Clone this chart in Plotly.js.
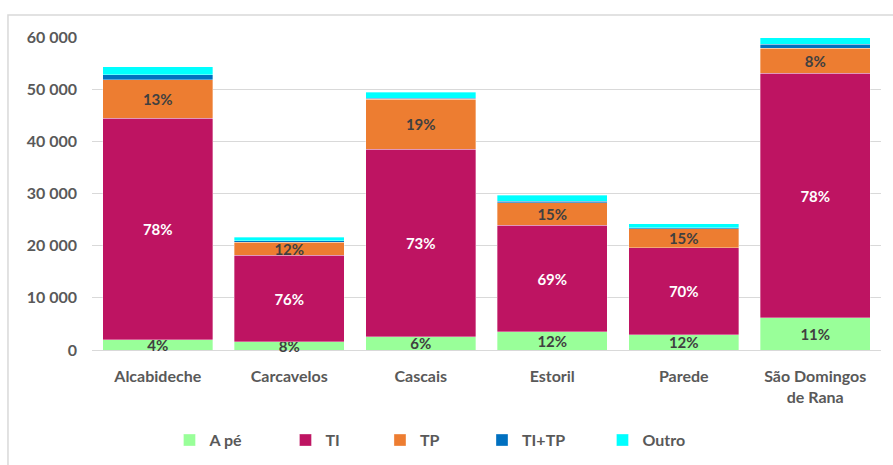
<!DOCTYPE html>
<html>
<head>
<meta charset="utf-8">
<script src="https://cdn.plot.ly/plotly-3.0.1.min.js"></script>
<style>
html,body{margin:0;padding:0;background:#fff;}
#chart{width:893px;height:465px;}
</style>
</head>
<body>
<div id="chart"></div>
<script>
const categories = ['Alcabideche', 'Carcavelos', 'Cascais', 'Estoril', 'Parede', 'São Domingos<br>de Rana'];
const aPe   = [1920, 1540, 2500, 3460, 2880, 6150];
const ti    = [42500, 16590, 35960, 20440, 16740, 46860];
const tp    = [7370, 2510, 9620, 4370, 3650, 4870];
const titp  = [960, 320, 150, 200, 200, 770];
const outro = [1540, 640, 1190, 1200, 760, 1160];
const aPeLabels = ['4%', '8%', '6%', '12%', '12%', '11%'];
const tiLabels  = ['78%', '76%', '73%', '69%', '70%', '78%'];
const tpLabels  = ['13%', '12%', '19%', '15%', '15%', '8%'];
const yTicks = [0, 10000, 20000, 30000, 40000, 50000, 60000];

const FONT = 'Lato, "DejaVu Sans", sans-serif';
const edge = {color: 'rgba(255,255,255,0.45)', width: 0.75};

function seg(name, y, color, labels, textColor, legendId) {
  const t = {
    type: 'bar', name: name, x: categories, y: y,
    marker: {color: color, line: edge},
    hoverinfo: 'skip', cliponaxis: false, legend: legendId
  };
  if (labels) {
    t.text = labels;
    t.textposition = 'inside';
    t.insidetextanchor = 'middle';
    t.constraintext = 'none';
    t.textangle = 0;
    t.textfont = {family: FONT, size: 15, color: textColor, weight: 'bold'};
    t.insidetextfont = {family: FONT, size: 15, color: textColor, weight: 'bold'};
  } else {
    t.textposition = 'none';
  }
  return t;
}

const data = [
  seg('A pé', aPe, '#99FF99', aPeLabels, '#404040', 'legend'),
  seg('TI', ti, '#BE1462', tiLabels, '#FFFFFF', 'legend2'),
  seg('TP', tp, '#ED7D31', tpLabels, '#404040', 'legend3'),
  seg('TI+TP', titp, '#0070C0', null, null, 'legend4'),
  seg('Outro', outro, '#00FFFF', null, null, 'legend5')
];

function leg(x) {
  return {
    orientation: 'h', x: x, xanchor: 'left', y: -0.288, yanchor: 'middle',
    font: {family: FONT, size: 16, color: '#595959', weight: 'bold'},
    bgcolor: 'rgba(0,0,0,0)', itemclick: false
  };
}

const layout = {
  width: 893, height: 465,
  margin: {l: 92, r: 12, t: 37, b: 115, autoexpand: false},
  paper_bgcolor: '#FFFFFF', plot_bgcolor: '#FFFFFF',
  barmode: 'stack', bargap: 0.163,
  separators: ', ',
  font: {family: FONT, color: '#595959'},
  showlegend: true,
  legend: leg(0.0982),
  legend2: leg(0.2452),
  legend3: leg(0.3650),
  legend4: leg(0.4943),
  legend5: leg(0.6470),
  xaxis: {
    type: 'category', showgrid: false, zeroline: false, automargin: false,
    showline: false, ticks: '', ticklabelstandoff: 15,
    tickfont: {family: FONT, size: 16, color: '#595959', weight: 'bold'}
  },
  yaxis: {
    range: [0, 60000], tickvals: yTicks, tickformat: ',d', automargin: false,
    showgrid: true, gridcolor: '#D9D9D9', gridwidth: 1,
    zeroline: true, zerolinecolor: '#D9D9D9', zerolinewidth: 1,
    showline: false, ticks: '', ticklabelstandoff: 14,
    tickfont: {family: FONT, size: 16, color: '#595959', weight: 'bold'}
  },
  shapes: [{
    type: 'rect', xref: 'paper', yref: 'paper', layer: 'below',
    x0: -0.1065, x1: 1.03, y0: -0.45, y1: 1.07,
    line: {color: '#D9D9D9', width: 1.5}, fillcolor: 'rgba(0,0,0,0)'
  }]
};

Plotly.newPlot('chart', data, layout, {displayModeBar: false, staticPlot: true});
</script>
</body>
</html>
